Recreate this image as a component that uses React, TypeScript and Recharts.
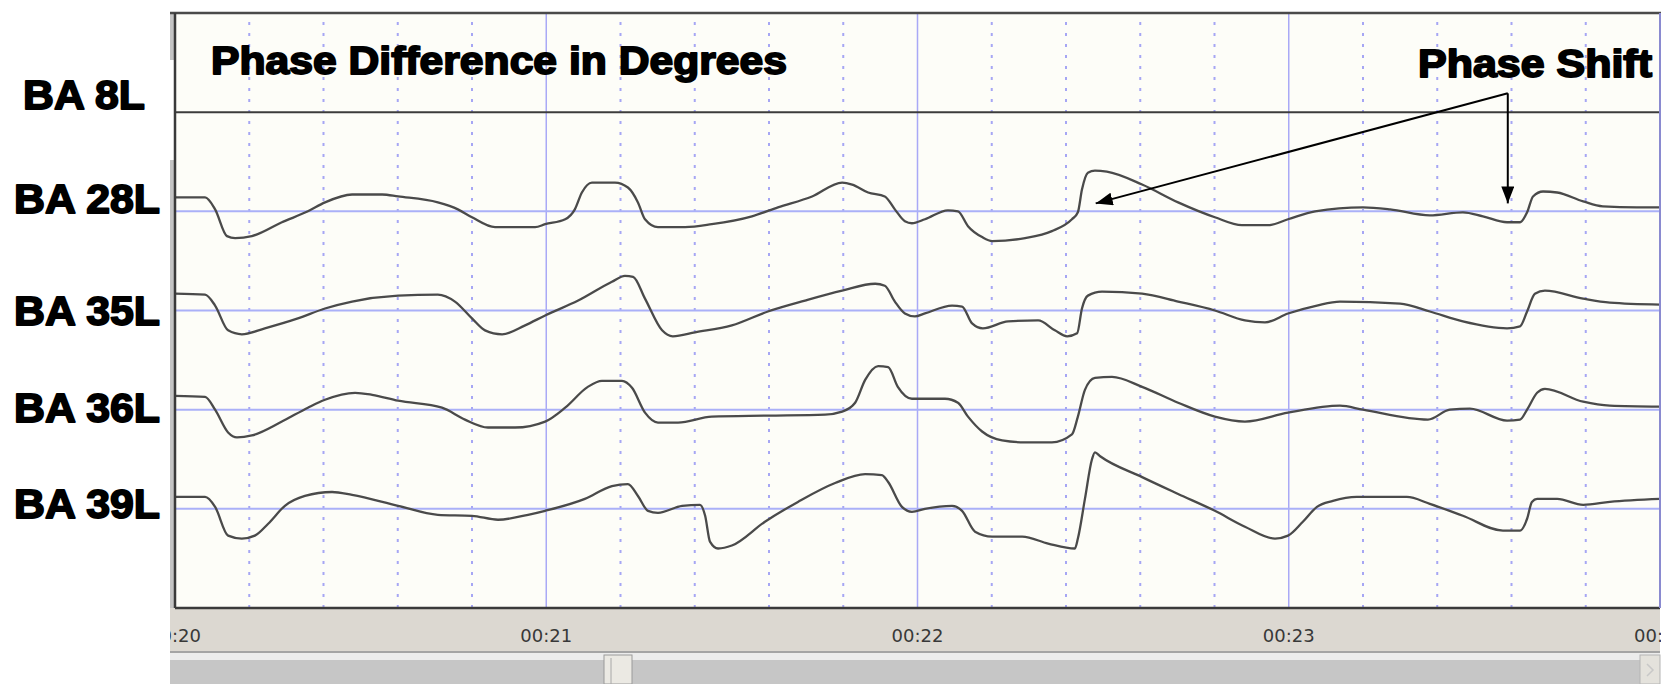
import React from "react";
import { LineChart, Line, XAxis, YAxis, ReferenceLine } from "recharts";

// channel names, top to bottom, and where each trace sits on the stacked y scale
const channelNames = ["BA 8L", "BA 28L", "BA 35L", "BA 36L", "BA 39L"];
const channelBase = [500, 400, 300, 200, 100];

// BA 8L is the reference channel: its phase difference stays flat
const ba8Time = [20, 24];
const ba8Phase = [0, 0];

const ba28Time = [
  20.0, 20.081, 20.108, 20.14, 20.162, 20.207, 20.288, 20.358, 20.404, 20.477, 20.558, 20.601,
  20.708, 20.762, 20.8, 20.862, 20.97, 20.997, 21.051, 21.077, 21.096, 21.123, 21.185, 21.22,
  21.247, 21.266, 21.301, 21.374, 21.446, 21.554, 21.624, 21.716, 21.797, 21.824, 21.867, 21.912,
  21.939, 21.966, 21.985, 22.02, 22.082, 22.109, 22.136, 22.174, 22.201, 22.29, 22.362, 22.416,
  22.432, 22.443, 22.459, 22.478, 22.51, 22.605, 22.702, 22.801, 22.874, 22.944, 22.998, 23.071,
  23.2, 23.273, 23.38, 23.469, 23.523, 23.588, 23.623, 23.642, 23.658, 23.685, 23.723, 23.793,
  23.846, 23.938, 24.0,
];
const ba28Phase = [
  14, 14, 2, -25, -27, -25, -11, 0, 9, 17, 17, 15,
  9, 2, -6, -16, -16, -13, -8, 2, 19, 29, 29, 24,
  9, -8, -16, -16, -13, -5, 4, 15, 29, 27, 19, 15,
  2, -10, -12, -8, 1, 0, -15, -26, -30, -27, -20, -8,
  -1, 22, 39, 41, 40, 27, 9, -6, -14, -14, -8, 0,
  4, 2, -4, -1, -5, -11, -11, -1, 15, 20, 19, 10,
  5, 4, 4,
];

const ba35Time = [
  20.0, 20.081, 20.108, 20.143, 20.18, 20.242, 20.331, 20.404, 20.477, 20.601, 20.708, 20.754,
  20.8, 20.835, 20.881, 20.943, 20.997, 21.086, 21.177, 21.212, 21.234, 21.266, 21.312, 21.341,
  21.401, 21.5, 21.597, 21.697, 21.797, 21.886, 21.912, 21.939, 21.966, 21.993, 22.02, 22.093,
  22.12, 22.147, 22.176, 22.244, 22.325, 22.37, 22.403, 22.43, 22.443, 22.459, 22.497, 22.605,
  22.702, 22.801, 22.882, 22.936, 22.998, 23.076, 23.138, 23.3, 23.38, 23.469, 23.588, 23.623,
  23.642, 23.663, 23.69, 23.793, 23.865, 24.0,
];
const ba35Phase = [
  17, 16, 5, -20, -24, -18, -8, 2, 9, 15, 16, 9,
  -8, -20, -24, -15, -5, 10, 29, 35, 34, 12, -20, -26,
  -22, -15, -1, 10, 20, 27, 25, 9, -3, -6, -3, 5,
  4, -13, -18, -11, -10, -20, -26, -23, 2, 15, 19, 17,
  9, 0, -10, -12, -3, 5, 9, 7, -1, -11, -18, -16,
  -1, 17, 20, 12, 8, 6,
];

const ba36Time = [
  20.0, 20.081, 20.108, 20.143, 20.167, 20.207, 20.288, 20.358, 20.404, 20.485, 20.531, 20.601,
  20.719, 20.781, 20.843, 20.916, 20.997, 21.051, 21.112, 21.15, 21.204, 21.231, 21.266, 21.301,
  21.355, 21.446, 21.597, 21.751, 21.797, 21.832, 21.859, 21.894, 21.921, 21.947, 21.985, 22.074,
  22.109, 22.136, 22.174, 22.228, 22.29, 22.362, 22.416, 22.432, 22.451, 22.478, 22.524, 22.605,
  22.702, 22.801, 22.882, 22.998, 23.138, 23.2, 23.375, 23.434, 23.488, 23.588, 23.623, 23.642,
  23.669, 23.69, 23.793, 23.865, 24.0,
];
const ba36Phase = [
  14, 13, 0, -23, -28, -26, -12, 2, 10, 17, 15, 9,
  2, -10, -18, -18, -12, 2, 23, 29, 29, 22, -3, -13,
  -13, -7, -6, -5, -2, 7, 30, 44, 43, 23, 11, 11,
  7, -7, -22, -31, -33, -33, -25, -7, 20, 32, 33, 23,
  7, -7, -12, -3, 4, 0, -10, 0, 1, -11, -10, 0,
  17, 21, 8, 4, 3,
];

const ba39Time = [
  20.0, 20.081, 20.108, 20.143, 20.18, 20.215, 20.251, 20.296, 20.35, 20.423, 20.477, 20.601,
  20.708, 20.8, 20.87, 20.951, 20.997, 21.104, 21.177, 21.22, 21.247, 21.274, 21.301, 21.366,
  21.414, 21.428, 21.441, 21.463, 21.5, 21.589, 21.678, 21.778, 21.859, 21.904, 21.921, 21.958,
  21.985, 22.02, 22.093, 22.12, 22.155, 22.201, 22.282, 22.352, 22.424, 22.432, 22.451, 22.47,
  22.478, 22.492, 22.605, 22.702, 22.801, 22.882, 22.963, 22.998, 23.038, 23.076, 23.119, 23.183,
  23.318, 23.38, 23.469, 23.577, 23.623, 23.642, 23.655, 23.669, 23.723, 23.793, 23.865, 24.0,
];
const ba39Phase = [
  12, 12, 2, -27, -30, -27, -15, 3, 13, 17, 14, 3,
  -6, -7, -11, -6, -2, 10, 23, 25, 13, -2, -4, 3,
  4, -7, -33, -40, -37, -13, 7, 26, 35, 34, 27, 2,
  -3, 0, 3, -2, -23, -28, -28, -35, -40, -30, 10, 50,
  57, 53, 32, 15, -2, -18, -30, -27, -13, 2, 8, 12,
  12, 5, -7, -22, -22, -10, 7, 10, 10, 4, 7, 10,
];

// time axis: labelled seconds and the dotted 0.2 s divisions
const majorTicks = [20, 21, 22, 23, 24];
const minorGrid = [
  20.2, 20.4, 20.6, 20.8, 21.2, 21.4, 21.6, 21.8,
  22.2, 22.4, 22.6, 22.8, 23.2, 23.4, 23.6, 23.8,
];

// "Phase Shift" annotation: one origin, two arrow tips
const shiftFrom = { t: 23.59, v: 519 };
const shiftTips = [
  { t: 22.48, v: 408 },
  { t: 23.59, v: 408 },
];

const W = 1668;
const H = 684;
const PLOT = { left: 175, right: 1660, top: 13, bottom: 608 };
const BOLD = "'Liberation Sans', Arial, sans-serif";

const labelBoxes = [
  { x: 23, y: 109, w: 122 },
  { x: 14, y: 213, w: 146 },
  { x: 14, y: 325, w: 146 },
  { x: 14, y: 422, w: 146 },
  { x: 14, y: 518, w: 146 },
];

const toRows = (times: number[], values: number[], base: number) =>
  times.map((t, i) => ({ t, v: base + values[i] }));

const traces = [
  toRows(ba28Time, ba28Phase, channelBase[1]),
  toRows(ba35Time, ba35Phase, channelBase[2]),
  toRows(ba36Time, ba36Phase, channelBase[3]),
  toRows(ba39Time, ba39Phase, channelBase[4]),
];
const refTrace = toRows(ba8Time, ba8Phase, channelBase[0]);

const TimeTick = ({ x, y, payload }: any) => (
  <text
    x={x}
    y={y + 32}
    textAnchor="middle"
    fontFamily="'DejaVu Sans', sans-serif"
    fontSize={18}
    fill="#383838"
  >
    {`00:${payload.value}`}
  </text>
);

const BoldText = ({ x, y, w, size, children }: any) => (
  <text
    x={x}
    y={y}
    fontFamily={BOLD}
    fontWeight="bold"
    fontSize={size}
    fill="#000"
    stroke="#000"
    strokeWidth={1.8}
    strokeLinejoin="round"
    textLength={w}
    lengthAdjust="spacingAndGlyphs"
  >
    {children}
  </text>
);

const layer: React.CSSProperties = { position: "absolute", left: 0, top: 0 };

export default function App() {
  return (
    <div style={{ position: "absolute", left: 0, top: 0, width: W, height: H, background: "#fff" }}>
      {/* back layer: plot paper, time band, scrollbar */}
      <svg width={W} height={H} style={layer}>
        <defs>
          <marker
            id="phaseArrow"
            viewBox="0 0 17 13"
            refX={17}
            refY={6.5}
            markerWidth={17}
            markerHeight={13}
            markerUnits="userSpaceOnUse"
            orient="auto"
          >
            <path d="M0,0 L17,6.5 L0,13 z" fill="#000" />
          </marker>
        </defs>
        <rect x={PLOT.left} y={PLOT.top} width={PLOT.right - PLOT.left} height={PLOT.bottom - PLOT.top} fill="#fdfdf8" />
        <rect x={170} y={PLOT.bottom} width={PLOT.right - 170} height={43} fill="#dcd8d1" />
        <rect x={170} y={651} width={PLOT.right - 170} height={2} fill="#a4a4a4" />
        <rect x={170} y={653} width={PLOT.right - 170} height={7} fill="#ececec" />
        <rect x={170} y={660} width={PLOT.right - 170} height={24} fill="#c6c6c6" />
        <rect x={604} y={655} width={28} height={29} fill="#ebe9e3" stroke="#9a9a9a" />
        <line x1={611} y1={658} x2={611} y2={684} stroke="#a8a8a8" />
        <rect x={1640} y={655} width={20} height={29} fill="#e4e2dc" stroke="#b4b4b4" />
        <path d="M1647,664 L1653,670 L1647,676" fill="none" stroke="#c8c8c8" strokeWidth={1.5} />
      </svg>

      <div style={layer}>
        <LineChart
          width={W}
          height={H}
          margin={{ top: PLOT.top, right: W - PLOT.right, bottom: 34, left: PLOT.left }}
        >
          <XAxis
            dataKey="t"
            type="number"
            domain={[20, 24]}
            ticks={majorTicks}
            interval={0}
            allowDataOverflow
            axisLine={false}
            tickLine={false}
            tickSize={0}
            height={42}
            tick={<TimeTick />}
          />
          <YAxis type="number" domain={[0, 600]} allowDataOverflow hide />

          {minorGrid.map((t) => (
            <ReferenceLine key={`m${t}`} x={t} stroke="#a6a6f4" strokeWidth={2} strokeDasharray="3 8" />
          ))}
          {majorTicks.slice(1).map((t) => (
            <ReferenceLine key={`M${t}`} x={t} stroke="#a9a9f6" strokeWidth={1.5} />
          ))}
          {channelBase.slice(1).map((b) => (
            <ReferenceLine key={`h${b}`} y={b} stroke="#aab0f8" strokeWidth={2} />
          ))}

          <Line
            data={refTrace}
            dataKey="v"
            type="linear"
            stroke="#3c3c3c"
            strokeWidth={2}
            dot={false}
            activeDot={false}
            isAnimationActive={false}
          />
          {traces.map((rows, i) => (
            <Line
              key={channelNames[i + 1]}
              data={rows}
              dataKey="v"
              name={channelNames[i + 1]}
              type="monotone"
              stroke="#4a4a4a"
              strokeWidth={2.3}
              dot={false}
              activeDot={false}
              isAnimationActive={false}
            />
          ))}

          {shiftTips.map((tip, i) => (
            <ReferenceLine
              key={`a${i}`}
              segment={[
                { x: shiftFrom.t, y: shiftFrom.v },
                { x: tip.t, y: tip.v },
              ]}
              stroke="#000"
              strokeWidth={2}
              markerEnd="url(#phaseArrow)"
            />
          ))}
        </LineChart>
      </div>

      {/* front layer: frame, clipped axis ends and the bold labels */}
      <svg width={W} height={H} style={{ ...layer, pointerEvents: "none" }}>
        <rect x={0} y={PLOT.bottom} width={170} height={H - PLOT.bottom} fill="#fff" />
        <rect x={PLOT.right + 1} y={PLOT.bottom} width={W - PLOT.right} height={H - PLOT.bottom} fill="#fff" />
        <rect x={170} y={PLOT.top} width={4} height={47} fill="#c4c4c4" />
        <rect x={170} y={160} width={4} height={PLOT.bottom - 160} fill="#c4c4c4" />
        <line x1={170} y1={PLOT.top} x2={PLOT.right + 1} y2={PLOT.top} stroke="#4a4a4a" strokeWidth={2.5} />
        <line x1={PLOT.left} y1={PLOT.top} x2={PLOT.left} y2={PLOT.bottom} stroke="#3a3a3a" strokeWidth={2.5} />
        <line x1={PLOT.left} y1={PLOT.bottom} x2={PLOT.right} y2={PLOT.bottom} stroke="#3a3a3a" strokeWidth={2.5} />
        <line x1={PLOT.right} y1={PLOT.top} x2={PLOT.right} y2={PLOT.bottom} stroke="#8a8ad0" strokeWidth={2} />

        <BoldText x={211} y={74} w={576} size={38}>
          Phase Difference in Degrees
        </BoldText>
        <BoldText x={1418} y={77} w={234} size={38}>
          Phase Shift
        </BoldText>
        {channelNames.map((name, i) => (
          <BoldText key={name} x={labelBoxes[i].x} y={labelBoxes[i].y} w={labelBoxes[i].w} size={41}>
            {name}
          </BoldText>
        ))}
      </svg>
    </div>
  );
}
